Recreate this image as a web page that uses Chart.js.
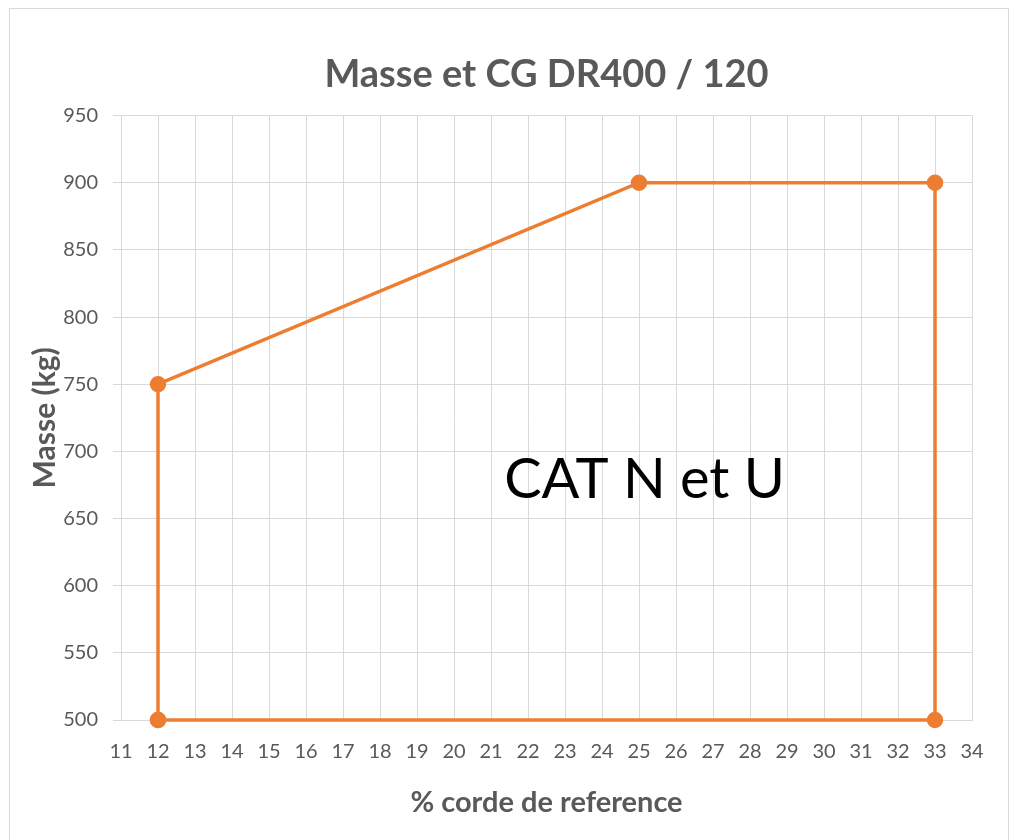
<!DOCTYPE html>
<html>
<head>
<meta charset="utf-8">
<script src="https://cdn.jsdelivr.net/npm/chart.js@4"></script>
<style>
  html, body { margin: 0; padding: 0; background: #fff; }
  #wrap { position: relative; width: 1013px; height: 840px; }
  #frame { position: absolute; left: 9px; top: 8px; width: 1000px; height: 840px; border: 1px solid #d9d9d9; box-sizing: border-box; }
  canvas { position: absolute; left: 0; top: 0; }
</style>
</head>
<body>
<div id="wrap">
  <div id="frame"></div>
  <canvas id="c" width="1013" height="840"></canvas>
</div>
<script>
// envelope points (% corde, masse kg)
const corde = [12, 12, 25, 33, 33, 12];
const masse = [500, 750, 900, 900, 500, 500];
const xTicks = [11, 34, 1];      // min, max, step
const yTicks = [500, 950, 50];
const label = { text: 'CAT N et U', x: 25.15, y: 679 };

const FONT = 'Lato, "Open Sans", sans-serif';
const GREY = '#595959';
const ORANGE = '#ED7D31';

const textPlugin = {
    id: 'catText',
    afterDatasetsDraw(chart) {
        const { ctx, scales } = chart;
        ctx.save();
        ctx.font = '56px ' + FONT;
        ctx.fillStyle = '#000';
        ctx.textAlign = 'center';
        ctx.textBaseline = 'middle';
        ctx.fillText(label.text, scales.x.getPixelForValue(label.x), scales.y.getPixelForValue(label.y));
        ctx.restore();
    }
};

new Chart(document.getElementById('c'), {
    type: 'scatter',
    data: {
        datasets: [{
            data: corde.map((x, i) => ({ x, y: masse[i] })),
            showLine: true,
            clip: false,
            borderColor: ORANGE,
            backgroundColor: ORANGE,
            borderWidth: 3.5,
            pointRadius: 6.5,
            pointHoverRadius: 6.5
        }]
    },
    options: {
        responsive: false,
        animation: false,
        layout: { padding: { left: 0, right: 41, top: 0, bottom: 0 } },
        plugins: {
            legend: { display: false },
            tooltip: { enabled: false },
            title: {
                display: true,
                fullSize: false,
                text: 'Masse et CG DR400 / 120',
                color: GREY,
                font: { family: FONT, size: 38, weight: 'bold', lineHeight: 1.2 },
                padding: { top: 52, bottom: 18 }
            }
        },
        scales: {
            x: {
                type: 'linear',
                min: xTicks[0], max: xTicks[1],
                ticks: { stepSize: xTicks[2], color: GREY, font: { family: FONT, size: 20 }, padding: 20, maxRotation: 0, autoSkip: false },
                grid: { color: '#d9d9d9', drawTicks: false },
                border: { color: '#d9d9d9' },
                title: { display: true, text: '% corde de reference', color: GREY, font: { family: FONT, size: 29, weight: 'bold', lineHeight: 1.2 }, padding: { bottom: 20 } },
                afterFit(s) { s.height = 120; }
            },
            y: {
                type: 'linear',
                min: yTicks[0], max: yTicks[1],
                ticks: { stepSize: yTicks[2], color: GREY, font: { family: FONT, size: 20 }, padding: 15 },
                grid: { color: '#d9d9d9', tickLength: 8 },
                border: { color: '#d9d9d9' },
                title: { display: true, text: 'Masse (kg)', color: GREY, font: { family: FONT, size: 30, weight: 'bold', lineHeight: 1.2 }, padding: { top: 27 } },
                afterFit(s) { s.width = 121; }
            }
        }
    },
    plugins: [textPlugin]
});
</script>
</body>
</html>
